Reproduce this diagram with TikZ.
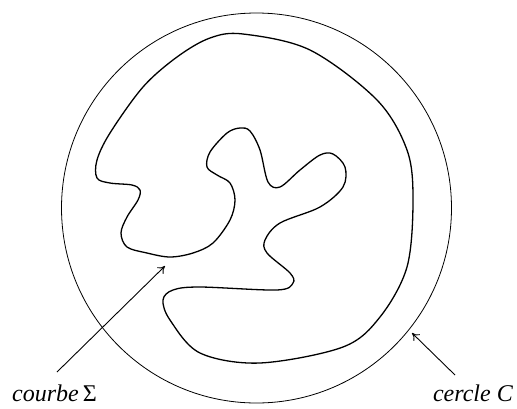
\documentclass[tikz,border=0pt]{standalone}
\usepackage{fontspec}
\setmainfont{Liberation Serif}
\usetikzlibrary{arrows.meta}
\begin{document}
\begin{tikzpicture}[x=1pt,y=-1pt,
  lbl/.style={font=\fontsize{24}{27}\selectfont\itshape, inner sep=0pt, text depth=0pt},
  pointer/.style={line width=0.9pt, -{To[length=7pt,width=9pt]}},
  curveline/.style={line width=1.3pt, line join=round}]
\useasboundingbox (0,0) rectangle (517,408);
\node[circle, draw, line width=0.8pt, minimum size=390pt, inner sep=0pt] (C) at (256.5,208) {};
\draw[curveline] plot[smooth cycle, tension=0.55] coordinates {
(243,34) (310,50) (377,100) (407,150) (413,200) (407,267) (380,317) (343,347)
(260,363) (200,353) (170,320) (163,300) (173,290) (200,287) (277,290) (293,283)
(290,273) (267,253) (265,240) (280,223) (320,207) (343,187) (345,167) (333,154)
(320,155) (300,170) (280,187) (268,182) (260,150) (250,131) (240,128) (227,133)
(210,152) (207,167) (217,175) (230,183) (235,200) (230,220) (213,243) (193,253)
(170,257) (147,253) (127,247) (121,233) (127,217) (138,200) (140,190) (132,185)
(110,183) (97,178) (97,160) (110,133) (143,87) (177,57) (210,38)};
\node[lbl, anchor=base west] (sig) at (12,401) {courbe\,{\upshape Σ}};
\node[lbl, anchor=base east] (cer) at (513,401) {cercle C};
\coordinate (sigtail) at (57,372);
\coordinate (sigtip) at (165,266);
\coordinate (certail) at (455,375);
\coordinate (certip) at (412,333);
\draw[pointer] (sigtail) -- (sigtip);
\draw[pointer] (certail) -- (certip);
\end{tikzpicture}
\end{document}
